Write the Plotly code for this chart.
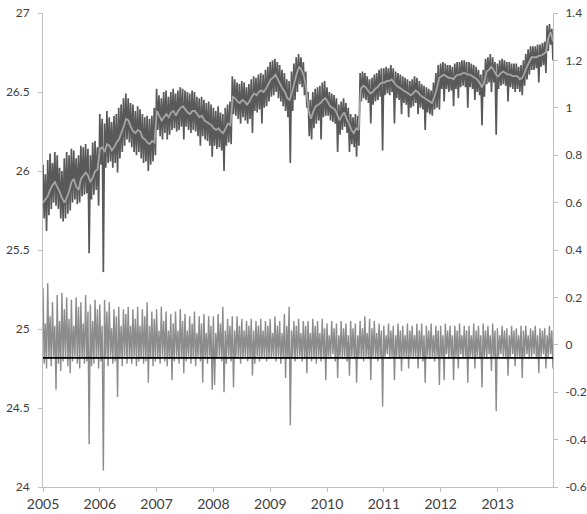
import pandas as pd
import plotly.graph_objects as go

YEARS = list(range(2005, 2014))

# ---- dark gray daily series (left axis), ~4 readings per month (hi/lo alternating) ----
DARK_2005 = [26.04, 25.70, 25.98, 25.62, 26.07, 25.72, 26.11, 25.76, 26.05, 25.80, 26.12, 25.78,
             26.10, 25.76, 26.02, 25.70, 26.00, 25.68, 26.08, 25.70, 26.12, 25.73, 26.10, 25.75,
             26.14, 25.80, 26.13, 25.82, 26.08, 25.79, 26.10, 25.80, 26.16, 25.84, 26.15, 25.85,
             26.17, 25.86, 26.14, 25.48, 26.10, 25.82, 26.18, 25.85, 26.19, 25.88, 26.15, 25.78]
DARK_2006 = [26.36, 26.04, 26.33, 25.36, 26.30, 26.02, 26.38, 26.05, 26.34, 26.06, 26.31, 26.02,
             26.35, 26.05, 26.36, 25.99, 26.40, 26.08, 26.42, 26.12, 26.46, 26.16, 26.49, 26.20,
             26.46, 26.18, 26.43, 26.15, 26.42, 26.12, 26.38, 26.10, 26.41, 26.12, 26.39, 26.08,
             26.36, 26.05, 26.34, 26.06, 26.35, 26.00, 26.33, 26.04, 26.35, 26.06, 26.40, 26.10]
DARK_2007 = [26.52, 26.26, 26.48, 26.22, 26.46, 26.20, 26.50, 26.24, 26.51, 26.20, 26.47, 26.23,
             26.50, 26.26, 26.52, 26.27, 26.49, 26.25, 26.51, 26.26, 26.53, 26.28, 26.52, 26.20,
             26.51, 26.28, 26.50, 26.26, 26.49, 26.24, 26.51, 26.26, 26.50, 26.25, 26.47, 26.22,
             26.46, 26.16, 26.47, 26.22, 26.45, 26.20, 26.43, 26.19, 26.44, 26.16, 26.42, 26.09]
DARK_2008 = [26.40, 26.16, 26.38, 26.14, 26.41, 26.15, 26.37, 26.13, 26.36, 26.00, 26.40, 26.16,
             26.42, 26.18, 26.44, 26.17, 26.60, 26.36, 26.58, 26.35, 26.56, 26.33, 26.55, 26.30,
             26.57, 26.34, 26.56, 26.32, 26.53, 26.30, 26.55, 26.33, 26.58, 26.24, 26.60, 26.38,
             26.59, 26.37, 26.61, 26.39, 26.62, 26.30, 26.61, 26.40, 26.64, 26.41, 26.66, 26.44]
DARK_2009 = [26.69, 26.47, 26.70, 26.48, 26.71, 26.50, 26.69, 26.46, 26.67, 26.44, 26.64, 26.41,
             26.62, 26.38, 26.58, 26.34, 26.57, 26.05, 26.63, 26.38, 26.68, 26.45, 26.72, 26.50,
             26.74, 26.55, 26.72, 26.53, 26.69, 26.48, 26.63, 26.40, 26.50, 26.22, 26.45, 26.20,
             26.50, 26.27, 26.52, 26.30, 26.53, 26.32, 26.54, 26.20, 26.56, 26.34, 26.57, 26.35]
DARK_2010 = [26.53, 26.35, 26.50, 26.32, 26.49, 26.31, 26.48, 26.30, 26.46, 26.12, 26.42, 26.23,
             26.44, 26.26, 26.46, 26.28, 26.43, 26.24, 26.40, 26.12, 26.36, 26.17, 26.34, 26.15,
             26.36, 26.09, 26.35, 26.16, 26.62, 26.44, 26.63, 26.46, 26.62, 26.45, 26.60, 26.43,
             26.58, 26.30, 26.59, 26.42, 26.61, 26.44, 26.62, 26.45, 26.64, 26.47, 26.65, 26.13]
DARK_2011 = [26.65, 26.48, 26.66, 26.49, 26.65, 26.48, 26.67, 26.50, 26.65, 26.30, 26.63, 26.46,
             26.62, 26.45, 26.61, 26.36, 26.60, 26.43, 26.59, 26.42, 26.58, 26.34, 26.57, 26.40,
             26.58, 26.41, 26.60, 26.43, 26.59, 26.36, 26.57, 26.40, 26.55, 26.39, 26.54, 26.26,
             26.53, 26.37, 26.52, 26.36, 26.51, 26.35, 26.56, 26.39, 26.62, 26.40, 26.67, 26.39]
DARK_2012 = [26.68, 26.52, 26.69, 26.44, 26.68, 26.52, 26.67, 26.50, 26.67, 26.51, 26.66, 26.41,
             26.68, 26.52, 26.69, 26.46, 26.69, 26.53, 26.70, 26.54, 26.70, 26.53, 26.69, 26.40,
             26.69, 26.53, 26.68, 26.52, 26.67, 26.45, 26.66, 26.50, 26.64, 26.48, 26.61, 26.29,
             26.64, 26.47, 26.71, 26.55, 26.72, 26.56, 26.74, 26.50, 26.72, 26.56, 26.69, 26.23]
DARK_2013 = [26.68, 26.52, 26.70, 26.54, 26.71, 26.55, 26.70, 26.54, 26.69, 26.44, 26.69, 26.53,
             26.68, 26.52, 26.68, 26.50, 26.68, 26.52, 26.66, 26.50, 26.67, 26.48, 26.70, 26.54,
             26.74, 26.58, 26.77, 26.61, 26.79, 26.64, 26.79, 26.64, 26.79, 26.65, 26.80, 26.56,
             26.80, 26.66, 26.81, 26.67, 26.82, 26.62, 26.92, 26.76, 26.93, 26.80, 26.90, 26.70]

# ---- light gray smoothed series (left axis), 2 readings per month ----
SMOOTH_2005 = [25.80, 25.82, 25.84, 25.88, 25.91, 25.93, 25.90, 25.87, 25.83, 25.80, 25.83, 25.87,
               25.93, 25.95, 25.90, 25.88, 25.95, 25.97, 25.99, 25.97, 25.93, 25.96, 26.00, 26.01]
SMOOTH_2006 = [26.14, 26.15, 26.12, 26.17, 26.16, 26.13, 26.15, 26.18, 26.20, 26.24, 26.28, 26.33,
               26.32, 26.28, 26.25, 26.24, 26.26, 26.25, 26.21, 26.20, 26.18, 26.17, 26.19, 26.18]
SMOOTH_2007 = [26.38, 26.35, 26.32, 26.34, 26.36, 26.34, 26.37, 26.38, 26.35, 26.38, 26.40, 26.41,
               26.39, 26.37, 26.36, 26.38, 26.38, 26.36, 26.34, 26.35, 26.32, 26.31, 26.30, 26.29]
SMOOTH_2008 = [26.27, 26.26, 26.27, 26.25, 26.24, 26.27, 26.30, 26.29, 26.47, 26.46, 26.44, 26.43,
               26.45, 26.44, 26.42, 26.44, 26.47, 26.49, 26.48, 26.50, 26.51, 26.50, 26.52, 26.55]
SMOOTH_2009 = [26.58, 26.59, 26.61, 26.58, 26.55, 26.52, 26.50, 26.46, 26.45, 26.50, 26.56, 26.62,
               26.66, 26.64, 26.60, 26.52, 26.38, 26.33, 26.38, 26.41, 26.42, 26.43, 26.45, 26.46]
SMOOTH_2010 = [26.44, 26.41, 26.40, 26.39, 26.36, 26.32, 26.35, 26.37, 26.33, 26.30, 26.26, 26.24,
               26.27, 26.26, 26.52, 26.54, 26.53, 26.51, 26.49, 26.50, 26.52, 26.53, 26.55, 26.56]
SMOOTH_2011 = [26.56, 26.57, 26.57, 26.58, 26.56, 26.54, 26.53, 26.52, 26.51, 26.50, 26.49, 26.48,
               26.49, 26.51, 26.50, 26.48, 26.47, 26.46, 26.45, 26.44, 26.43, 26.47, 26.52, 26.59]
SMOOTH_2012 = [26.60, 26.61, 26.60, 26.59, 26.59, 26.58, 26.60, 26.61, 26.61, 26.62, 26.62, 26.61,
               26.61, 26.60, 26.59, 26.58, 26.56, 26.53, 26.56, 26.63, 26.64, 26.66, 26.64, 26.61]
SMOOTH_2013 = [26.60, 26.62, 26.63, 26.62, 26.61, 26.61, 26.60, 26.60, 26.60, 26.58, 26.59, 26.62,
               26.66, 26.69, 26.72, 26.72, 26.72, 26.73, 26.73, 26.74, 26.75, 26.84, 26.88, 26.82]

# ---- residual series (right axis), ~4 readings per month ----
RESID_2005 = [0.24, -0.08, 0.09, -0.10, 0.26, -0.06, 0.12, -0.09, 0.18, -0.05, 0.08, -0.19,
              0.21, -0.08, 0.10, -0.11, 0.22, -0.07, 0.15, -0.06, 0.20, -0.09, 0.11, -0.12,
              0.19, -0.07, 0.08, -0.05, 0.20, -0.08, 0.16, -0.10, 0.18, -0.06, 0.09, -0.08,
              0.21, -0.07, 0.14, -0.42, 0.17, -0.09, 0.10, -0.08, 0.19, -0.06, 0.15, -0.10]
RESID_2006 = [0.17, -0.07, 0.08, -0.53, 0.19, -0.06, 0.14, -0.09, 0.18, -0.05, 0.07, -0.08,
              0.15, -0.07, 0.12, -0.22, 0.16, -0.06, 0.08, -0.09, 0.15, -0.05, 0.13, -0.08,
              0.16, -0.06, 0.08, -0.08, 0.15, -0.05, 0.11, -0.09, 0.16, -0.07, 0.08, -0.06,
              0.15, -0.08, 0.12, -0.07, 0.18, -0.16, 0.08, -0.06, 0.14, -0.09, 0.11, -0.07]
RESID_2007 = [0.15, -0.06, 0.06, -0.08, 0.16, -0.05, 0.10, -0.07, 0.14, -0.09, 0.06, -0.06,
              0.13, -0.15, 0.09, -0.07, 0.14, -0.05, 0.06, -0.08, 0.15, -0.06, 0.10, -0.12,
              0.13, -0.07, 0.06, -0.05, 0.12, -0.08, 0.09, -0.06, 0.14, -0.09, 0.05, -0.05,
              0.12, -0.07, 0.09, -0.16, 0.13, -0.06, 0.05, -0.08, 0.12, -0.05, 0.08, -0.19]
RESID_2008 = [0.12, -0.17, 0.05, -0.06, 0.13, -0.05, 0.09, -0.07, 0.16, -0.20, 0.06, -0.08,
              0.11, -0.05, 0.08, -0.07, 0.12, -0.18, 0.06, -0.06, 0.12, -0.05, 0.08, -0.08,
              0.11, -0.06, 0.06, -0.05, 0.10, -0.07, 0.08, -0.06, 0.11, -0.13, 0.06, -0.08,
              0.10, -0.05, 0.08, -0.07, 0.11, -0.06, 0.06, -0.05, 0.10, -0.07, 0.08, -0.06]
RESID_2009 = [0.11, -0.06, 0.05, -0.05, 0.12, -0.07, 0.08, -0.05, 0.10, -0.08, 0.05, -0.06,
              0.13, -0.14, 0.08, -0.06, 0.16, -0.34, 0.06, -0.05, 0.10, -0.07, 0.08, -0.06,
              0.11, -0.05, 0.05, -0.07, 0.10, -0.06, 0.08, -0.12, 0.10, -0.05, 0.05, -0.07,
              0.11, -0.06, 0.08, -0.08, 0.10, -0.05, 0.05, -0.07, 0.11, -0.06, 0.07, -0.15]
RESID_2010 = [0.09, -0.05, 0.04, -0.06, 0.10, -0.04, 0.07, -0.07, 0.09, -0.14, 0.04, -0.05,
              0.10, -0.06, 0.07, -0.05, 0.09, -0.07, 0.04, -0.13, 0.10, -0.05, 0.07, -0.06,
              0.09, -0.16, 0.04, -0.05, 0.10, -0.06, 0.07, -0.07, 0.12, -0.05, 0.05, -0.06,
              0.11, -0.15, 0.07, -0.05, 0.10, -0.06, 0.05, -0.07, 0.09, -0.05, 0.06, -0.26]
RESID_2011 = [0.08, -0.05, 0.04, -0.04, 0.09, -0.06, 0.06, -0.05, 0.08, -0.15, 0.04, -0.05,
              0.09, -0.06, 0.06, -0.11, 0.08, -0.05, 0.04, -0.06, 0.09, -0.10, 0.06, -0.05,
              0.08, -0.06, 0.04, -0.05, 0.09, -0.10, 0.06, -0.05, 0.09, -0.07, 0.04, -0.16,
              0.08, -0.05, 0.06, -0.06, 0.09, -0.05, 0.04, -0.07, 0.08, -0.05, 0.06, -0.17]
RESID_2012 = [0.08, -0.05, 0.04, -0.15, 0.09, -0.04, 0.06, -0.06, 0.08, -0.05, 0.04, -0.15,
              0.08, -0.05, 0.06, -0.10, 0.09, -0.04, 0.04, -0.06, 0.08, -0.05, 0.06, -0.16,
              0.08, -0.05, 0.04, -0.06, 0.09, -0.10, 0.06, -0.05, 0.08, -0.06, 0.04, -0.18,
              0.09, -0.05, 0.06, -0.06, 0.08, -0.04, 0.04, -0.11, 0.09, -0.05, 0.06, -0.28]
RESID_2013 = [0.07, -0.05, 0.04, -0.04, 0.08, -0.05, 0.06, -0.06, 0.07, -0.13, 0.04, -0.05,
              0.08, -0.04, 0.06, -0.09, 0.07, -0.05, 0.04, -0.06, 0.08, -0.14, 0.06, -0.05,
              0.08, -0.04, 0.04, -0.06, 0.07, -0.05, 0.06, -0.04, 0.08, -0.06, 0.04, -0.12,
              0.07, -0.05, 0.06, -0.04, 0.07, -0.10, 0.04, -0.05, 0.08, -0.04, 0.06, -0.10]

# reference (black) level on the right axis
BASELINE_LEVEL = -0.055

LEFT_TICKS = [24, 24.5, 25, 25.5, 26, 26.5, 27]
LEFT_LABELS = ["24", "24.5", "25", "25.5", "26", "26.5", "27"]
RIGHT_TICKS = [-0.6, -0.4, -0.2, 0, 0.2, 0.4, 0.6, 0.8, 1.0, 1.2, 1.4]
RIGHT_LABELS = ["-0.6", "-0.4", "-0.2", "0", "0.2", "0.4", "0.6", "0.8", "1", "1.2", "1.4"]
X_TICKS = [f"{y}-01-01" for y in YEARS]
X_LABELS = [str(y) for y in YEARS]
START_DATE = "2005-01-01"
END_DATE = "2013-12-23"

dark = (DARK_2005 + DARK_2006 + DARK_2007 + DARK_2008 + DARK_2009 +
        DARK_2010 + DARK_2011 + DARK_2012 + DARK_2013)
smooth = (SMOOTH_2005 + SMOOTH_2006 + SMOOTH_2007 + SMOOTH_2008 + SMOOTH_2009 +
          SMOOTH_2010 + SMOOTH_2011 + SMOOTH_2012 + SMOOTH_2013)
resid = (RESID_2005 + RESID_2006 + RESID_2007 + RESID_2008 + RESID_2009 +
         RESID_2010 + RESID_2011 + RESID_2012 + RESID_2013)

# evenly spaced observation dates over the period
dark_x = pd.date_range(START_DATE, END_DATE, periods=len(dark))
resid_x = pd.date_range(START_DATE, END_DATE, periods=len(resid))
smooth_x = pd.date_range(START_DATE, END_DATE, periods=len(smooth))

fig = go.Figure()
fig.add_trace(go.Scatter(x=resid_x, y=resid, yaxis="y2", mode="lines",
                         line=dict(color="#8c8c8c", width=1.4, simplify=False),
                         hoverinfo="skip"))
fig.add_trace(go.Scatter(x=[resid_x[0], resid_x[-1]], y=[BASELINE_LEVEL, BASELINE_LEVEL],
                         yaxis="y2", mode="lines", line=dict(color="#000000", width=1.6),
                         hoverinfo="skip"))
fig.add_trace(go.Scatter(x=dark_x, y=dark, mode="lines",
                         line=dict(color="#595959", width=1.7, simplify=False),
                         hoverinfo="skip"))
fig.add_trace(go.Scatter(x=smooth_x, y=smooth, mode="lines",
                         line=dict(color="#a6a6a6", width=1.8, simplify=False),
                         hoverinfo="skip"))

axis_col = "#bfbfbf"
font_col = "#404040"
fig.update_layout(
    width=587, height=514,
    margin=dict(l=43, r=34, t=13, b=27, autoexpand=False),
    paper_bgcolor="white", plot_bgcolor="white",
    showlegend=False,
    xaxis=dict(type="date", range=[START_DATE, END_DATE], automargin=False,
               tickmode="array", tickvals=X_TICKS, ticktext=X_LABELS,
               ticks="outside", ticklen=4, tickcolor=axis_col,
               showline=True, linecolor=axis_col, linewidth=1,
               showgrid=False, zeroline=False,
               tickfont=dict(family="Lato", size=14, color=font_col)),
    yaxis=dict(range=[24, 27], automargin=False,
               tickmode="array", tickvals=LEFT_TICKS, ticktext=LEFT_LABELS,
               ticks="outside", ticklen=4, tickcolor=axis_col, ticklabelstandoff=6,
               showline=True, linecolor=axis_col, linewidth=1,
               showgrid=False, zeroline=False,
               tickfont=dict(family="Lato", size=12, color=font_col)),
    yaxis2=dict(range=[-0.6, 1.4], overlaying="y", side="right", automargin=False,
                tickmode="array", tickvals=RIGHT_TICKS, ticktext=RIGHT_LABELS,
                ticks="outside", ticklen=4, tickcolor=axis_col, ticklabelstandoff=5,
                showline=True, linecolor=axis_col, linewidth=1,
                showgrid=False, zeroline=False,
                tickfont=dict(family="Lato", size=12, color=font_col)),
)

fig.write_html("out.html", config={"displayModeBar": False})
